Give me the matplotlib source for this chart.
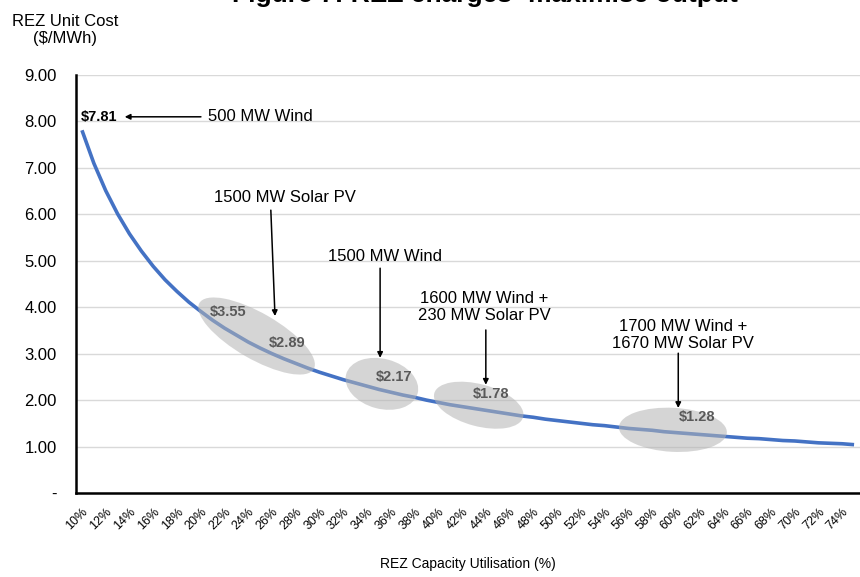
import matplotlib
matplotlib.use("Agg")
import matplotlib.pyplot as plt
from matplotlib.patches import Ellipse
from matplotlib.transforms import IdentityTransform

plt.rcParams["font.family"] = ["Liberation Sans", "DejaVu Sans"]

# utilisation (%) and unit cost ($/MWh)
utilisation = list(range(10, 76))
unit_cost = [
    7.81, 7.10, 6.51, 6.01, 5.58, 5.21, 4.88, 4.59, 4.34, 4.11,
    3.91, 3.72, 3.55, 3.40, 3.25, 3.12, 3.00, 2.89, 2.79, 2.69,
    2.60, 2.52, 2.44, 2.37, 2.30, 2.23, 2.17, 2.11, 2.06, 2.00,
    1.95, 1.90, 1.86, 1.82, 1.78, 1.74, 1.70, 1.66, 1.63, 1.59,
    1.56, 1.53, 1.50, 1.47, 1.45, 1.42, 1.39, 1.37, 1.35, 1.32,
    1.30, 1.28, 1.26, 1.24, 1.22, 1.20, 1.18, 1.17, 1.15, 1.13,
    1.12, 1.10, 1.08, 1.07, 1.06, 1.04,
]
y_ticks = [0, 1, 2, 3, 4, 5, 6, 7, 8, 9]
y_tick_labels = ["-", "1.00", "2.00", "3.00", "4.00", "5.00", "6.00", "7.00", "8.00", "9.00"]

# highlighted points (utilisation %, label)
highlights = [(22, "$3.55"), (27, "$2.89"), (36, "$2.17"), (44, "$1.78"), (61, "$1.28")]
scenarios = ["1500 MW Solar PV", "1500 MW Wind", "1600 MW Wind +\n230 MW Solar PV",
             "1700 MW Wind +\n1670 MW Solar PV"]

fig = plt.figure(figsize=(8.6, 5.77), dpi=100)
ax = fig.add_axes([0.0884, 0.1456, 0.9116, 0.7244])

xs = list(range(len(utilisation)))
ax.plot(xs, unit_cost, color="#4472C4", lw=2.6, solid_capstyle="butt", zorder=2)

ax.set_xlim(-0.5, len(xs) - 0.5)
ax.set_ylim(0, 9)
ax.set_yticks(y_ticks)
ax.set_yticklabels(y_tick_labels, fontsize=12)
ax.set_xticks(xs[::2])
ax.set_xticklabels([f"{u}%" for u in utilisation[::2]], rotation=45, ha="right",
                   va="top", rotation_mode="anchor", fontsize=9)
ax.tick_params(length=0)
ax.tick_params(axis="x", pad=9)
ax.tick_params(axis="y", pad=14)
ax.grid(axis="y", color="#d9d9d9", lw=1)
ax.set_axisbelow(True)
for s in ["top", "right"]:
    ax.spines[s].set_visible(False)
for s in ["left", "bottom"]:
    ax.spines[s].set_linewidth(1.8)

ax.set_xlabel("REZ Capacity Utilisation (%)", fontsize=10, labelpad=18)
fig.text(0.0756, 0.948, "REZ Unit Cost\n($/MWh)", ha="center", va="center", fontsize=12,
         linespacing=1.2)
fig.text(0.564, 0.9965, "Figure 7: REZ charges- maximise output", ha="center",
         va="baseline", fontsize=19, fontweight="bold")


def idx(u):
    return utilisation.index(u)


# grey ellipses (pixel size, angle) around groups of points
ellipses = [((14.7, 3.38), 132, 46, -30), ((25.25, 2.35), 74, 50, -15),
            ((33.4, 1.89), 92, 42, -15), ((49.75, 1.36), 108, 44, -3)]
for (cx, cy), w, h, a in ellipses:
    px = ax.transData.transform((cx, cy))
    e = Ellipse(px, w, h, angle=a, transform=IdentityTransform(),
                facecolor="#b4b4b4", edgecolor="none", alpha=0.55, zorder=3)
    ax.add_artist(e)

offsets = [(0.3, 0.35), (0.3, 0.34), (0.3, 0.33), (0.4, 0.35), (0.8, 0.36)]
for (u, lab), (dx, dy) in zip(highlights, offsets):
    i = idx(u)
    ax.text(i + dx, unit_cost[i] + dy, lab, ha="center", va="center", fontsize=10.5,
            fontweight="bold", color="#595959", zorder=4)

# first point label and arrow
ax.text(-0.08, 8.10, "$7.81", ha="left", va="center", fontsize=10.5, fontweight="bold")
ax.annotate("500 MW Wind", xy=(3.6, 8.10), xytext=(10.6, 8.10), ha="left", va="center",
            fontsize=12, arrowprops=dict(arrowstyle="-|>", color="black", lw=1.1,
                                         mutation_scale=8, shrinkA=3, shrinkB=0))

arrow_specs = [((17.1, 6.37), (15.9, 6.09), (16.25, 3.81)),
               ((25.5, 5.10), (25.1, 4.84), (25.1, 2.91)),
               ((33.9, 4.00), (34.0, 3.51), (34.0, 2.33)),
               ((50.6, 3.40), (50.2, 3.01), (50.2, 1.83))]
for text, (tpos, start, end) in zip(scenarios, arrow_specs):
    ax.text(tpos[0], tpos[1], text, ha="center", va="center", fontsize=12,
            linespacing=1.15)
    ax.annotate("", xy=end, xytext=start,
                arrowprops=dict(arrowstyle="-|>", color="black", lw=1.1,
                                mutation_scale=8, shrinkA=0, shrinkB=0))

fig.savefig("out.png", dpi=100)
